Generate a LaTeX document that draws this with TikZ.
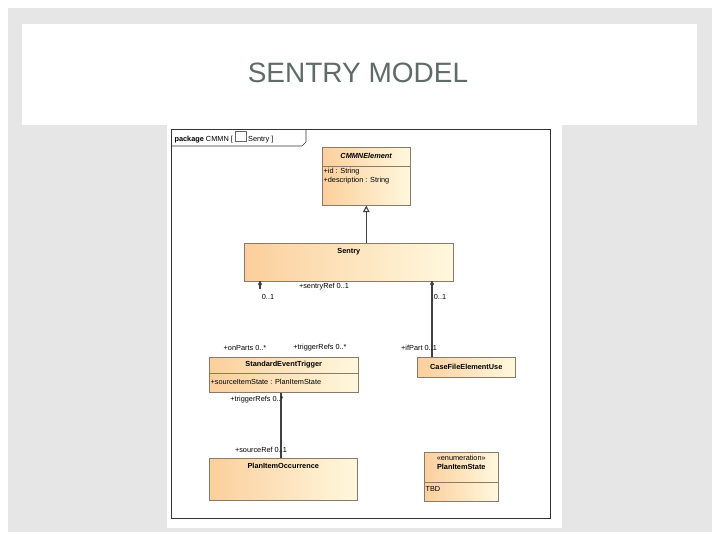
\documentclass[tikz,border=0pt]{standalone}
\usepackage{fontspec}
\setmainfont{Liberation Sans}
\usepackage{tikz}
\usetikzlibrary{calc,positioning,arrows.meta,shapes.geometric}
\definecolor{slidegray}{HTML}{E6E6E6}
\definecolor{umlleft}{HTML}{FBCF9C}
\definecolor{umlright}{HTML}{FFF8DE}
\definecolor{umlline}{HTML}{8A7A6A}
\definecolor{titlegray}{HTML}{5F6B66}
\tikzset{
    umlbox/.style={rectangle, draw=umlline, left color=umlleft, right color=umlright, anchor=north west, inner sep=0pt},
    umltext/.style={font=\fontsize{5.5}{6.5}\selectfont, inner sep=1pt},
    line/.style={thick, black!75},
    gen/.style={-{Triangle[open,length=5pt,width=5pt]}, line},
}
\begin{document}
\begin{tikzpicture}[x=0.75pt,y=-0.75pt]
        \useasboundingbox (0,0) rectangle (720,540);

        % Slide background
        \fill[slidegray] (8,8) rectangle (712,532);
        \fill[white] (22,24) rectangle (697,125);
        \node[font=\fontsize{21}{24}\selectfont, text=titlegray] (title) at (358,73) {SENTRY MODEL};
        \fill[white] (167,125) rectangle (562,528);

        % Package frame
        \draw[black!80] (171,129) rectangle (550,518);
        \draw[black!80] (171,146) -- (302,146) -- (306,142) -- (306,129);
        \node[umltext, anchor=west] (pkg) at (173,137) {\textbf{package} CMMN [ \tikz\draw[black!60,fill=white] (0,0) rectangle (8pt,8pt); Sentry ]};

        % Classes
        \node[umlbox, minimum width=88*0.75pt, minimum height=58*0.75pt] (elem) at (322,147) {};
        \node[umltext] at ($(elem.north)+(0,9)$) {\textbf{\textit{CMMNElement}}};
        \draw[umlline] ($(elem.north west)+(0,19)$) -- ($(elem.north east)+(0,19)$);
        \node[umltext, anchor=north west, align=left] at ($(elem.north west)+(0,20)$) {+id : String\\+description : String};

        \node[umlbox, minimum width=209*0.75pt, minimum height=38*0.75pt] (sentry) at (244,243) {};
        \node[umltext] at ($(sentry.north)+(0,9)$) {\textbf{Sentry}};

        \node[umlbox, minimum width=149*0.75pt, minimum height=35*0.75pt] (trigger) at (209,357) {};
        \node[umltext] at ($(trigger.north)+(0,8)$) {\textbf{StandardEventTrigger}};
        \draw[umlline] ($(trigger.north west)+(0,16)$) -- ($(trigger.north east)+(0,16)$);
        \node[umltext, anchor=west] at ($(trigger.north west)+(0,25)$) {+sourceItemState : PlanItemState};

        \node[umlbox, minimum width=98*0.75pt, minimum height=20*0.75pt] (casefile) at (417,357) {};
        \node[umltext] at (casefile.center) {\textbf{CaseFileElementUse}};

        \node[umlbox, minimum width=148*0.75pt, minimum height=42*0.75pt] (occurrence) at (209,458) {};
        \node[umltext] at ($(occurrence.north)+(0,8)$) {\textbf{PlanItemOccurrence}};

        \node[umlbox, minimum width=74*0.75pt, minimum height=49*0.75pt] (state) at (424,452) {};
        \node[umltext, align=center, anchor=north] at ($(state.north)+(0,2)$) {«enumeration»\\\textbf{PlanItemState}};
        \draw[umlline] ($(state.north west)+(0,30)$) -- ($(state.north east)+(0,30)$);
        \node[umltext, anchor=west] at ($(state.north west)+(0,37)$) {TBD};

        % Connectors
        \draw[gen] (sentry.north -| elem.south) -- (elem.south);
        \coordinate (dleft) at (260,281);
        \draw[line] (dleft) -- ++(0,8);
        \fill[black!75] (dleft) -- ++(2,3) -- ++(-2,3) -- ++(-2,-3) -- cycle;
        \coordinate (dright) at (432,281);
        \draw[line] (dright) -- (casefile.north -| dright);
        \fill[black!75] (dright) -- ++(2,3) -- ++(-2,3) -- ++(-2,-3) -- cycle;
        \coordinate (link) at (281,0);
        \draw[line] (trigger.south -| link) -- (occurrence.north -| link);

        % Multiplicities
        \node[umltext] at (268,297) {0..1};
        \node[umltext] at (324,287) {+sentryRef 0..1};
        \node[umltext] at (440,297) {0..1};
        \node[umltext] at (245,348) {+onParts 0..*};
        \node[umltext] at (320,348) {+triggerRefs 0..*};
        \node[umltext] at (419,348) {+ifPart 0..1};
        \node[umltext] at (257,400) {+triggerRefs 0..*};
        \node[umltext] at (261,450) {+sourceRef 0..1};
\end{tikzpicture}
\end{document}
